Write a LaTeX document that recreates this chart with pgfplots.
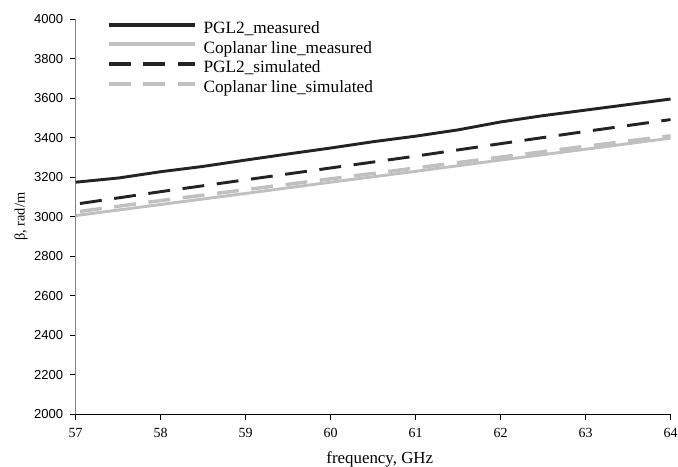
\documentclass[border=0pt]{standalone}
\usepackage{fontspec}
\setmainfont{Liberation Serif}
\newfontfamily\arialfont{Liberation Sans}
\usepackage{pgfplots}
\pgfplotsset{compat=1.18}
\definecolor{lgray}{RGB}{192,192,192}
\definecolor{dk}{RGB}{35,35,35}
\begin{document}
\begin{tikzpicture}
\begin{axis}[
  name=ax,
  scale only axis,
  width=447.75pt, height=297.3pt,
  xmin=57, xmax=64, ymin=2000, ymax=4000,
  xtick={57,...,64}, ytick={2000,2200,...,4000},
  axis x line*=bottom, axis y line*=left,
  x axis line style={black,-}, y axis line style={gray,-},
  tick align=outside, tick style={black, thin},
  major tick length=4pt,
  xticklabel style={font=\rmfamily\fontsize{10.5}{11}\selectfont, yshift=-3pt},
  yticklabel style={font=\arialfont\fontsize{9.8}{10}\selectfont, xshift=-2pt},
  /pgf/number format/assume math mode=true,
  /pgf/number format/1000 sep={},
  xlabel={frequency, GHz}, ylabel={β, rad/m},
  xlabel style={font=\fontsize{12.7}{14}\selectfont, yshift=-4pt, xshift=5pt},
  ylabel style={font=\fontsize{10.8}{12}\selectfont, yshift=-2pt},
  legend style={draw=none, fill=none, at={(0.052,0.995)}, anchor=north west,
    inner sep=0pt, column sep=5.25pt, row sep=2.8pt,
    nodes={inner sep=0pt, text height=9pt, text depth=3pt},
    font=\fontsize{13}{14}\selectfont},
  legend cell align=left,
  legend image code/.code={\draw[#1, line width=3pt] (0pt,3.5pt) -- (64.5pt,3.5pt);},
]
\addplot[dk, line width=2.2pt] coordinates {(57,3175) (57.5,3196) (58,3228) (58.5,3255) (59,3287) (59.5,3318) (60,3348) (60.5,3380) (61,3408) (61.5,3440) (62,3480) (62.5,3512) (63,3540) (63.5,3568) (64,3596)};
\addlegendentry{PGL2\_measured}
\addplot[lgray, line width=2.2pt] coordinates {(57,3006) (58,3062) (59,3118) (60,3175) (61,3230) (62,3287) (63,3342) (64,3398)};
\addlegendentry{Coplanar line\_measured}
\addplot[dk, line width=2.2pt, dash pattern=on 16.5pt off 9.5pt] coordinates {(57.05,3067) (58,3127) (59,3187) (60,3247) (61,3307) (62,3370) (63,3432) (64,3492)};
\addlegendentry{PGL2\_simulated}
\addplot[lgray, line width=2.6pt, dash pattern=on 16.5pt off 9.5pt] coordinates {(57.05,3027) (58,3082) (59,3137) (60,3192) (61,3247) (62,3302) (63,3357) (64,3410)};
\addlegendentry{Coplanar line\_simulated}
\end{axis}
\pgfresetboundingbox
\path ([shift={(-57pt,-39.2pt)}]ax.south west) rectangle ([shift={(5.6pt,14.5pt)}]ax.north east);
\end{tikzpicture}
\end{document}
